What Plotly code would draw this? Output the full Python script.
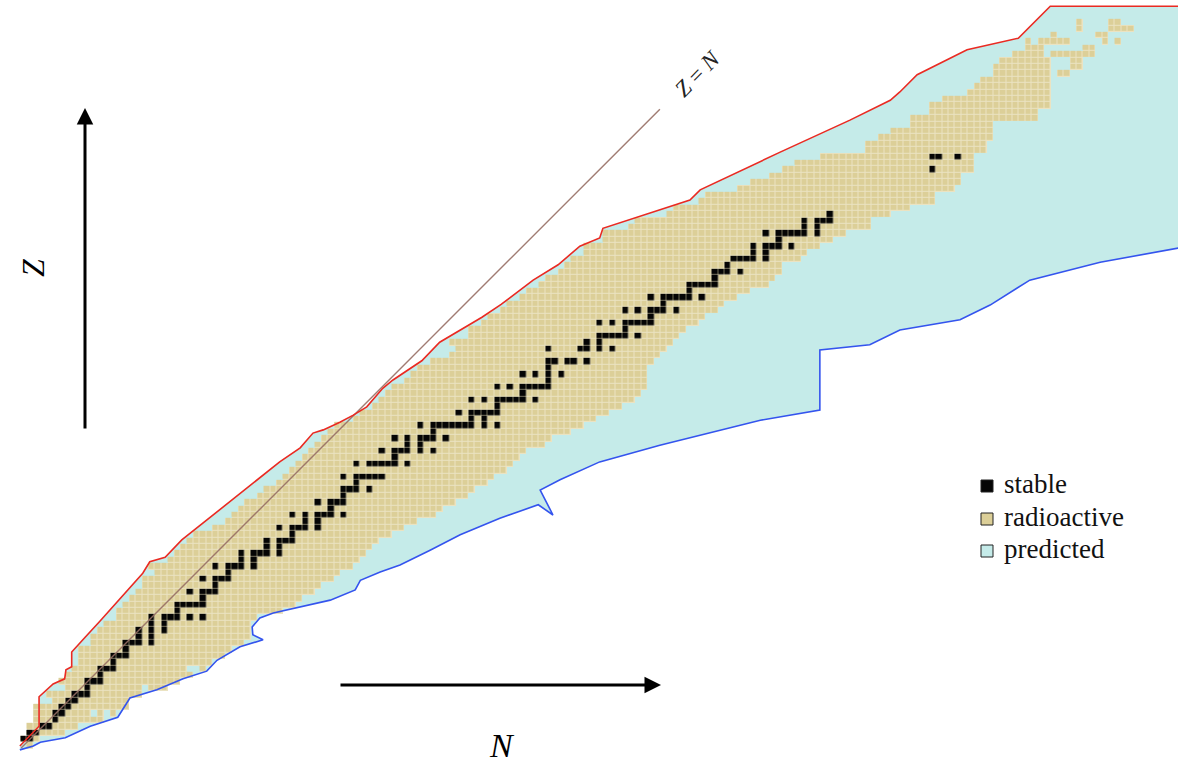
import numpy as np
import plotly.graph_objects as go

# ---------------------------------------------------------------------------
# Known nuclides: lowest / highest neutron number observed for each element
# (Z = 0 is the free neutron)
# ---------------------------------------------------------------------------
Z_KNOWN = list(range(0, 100))
N_FIRST = [
    1, 0, 1, 1, 2, 2, 2, 5, 4, 7,            # Z 0-9
    6, 7, 8, 9, 9, 9, 11, 11, 12, 13,        # Z 10-19
    15, 15, 16, 17, 18, 19, 19, 21, 20, 23,  # Z 20-29
    24, 25, 26, 27, 30, 32, 33, 34, 35, 37,  # Z 30-39
    38, 40, 41, 42, 43, 44, 45, 46, 47, 48,  # Z 40-49
    49, 52, 53, 55, 56, 57, 58, 60, 61, 62,  # Z 50-59
    64, 67, 68, 67, 70, 70, 72, 73, 75, 76,  # Z 60-69
    78, 79, 81, 82, 84, 85, 86, 88, 88, 91,  # Z 70-79
    91, 95, 96, 101, 102, 106, 107, 112, 114, 117,  # Z 80-89
    119, 121, 125, 132, 132, 134, 136, 139, 139, 142,  # Z 90-99
]
N_LAST = [
    1, 2, 6, 8, 12, 14, 16, 16, 18, 22,
    24, 26, 28, 29, 31, 32, 34, 35, 35, 35,
    36, 40, 42, 43, 45, 46, 48, 49, 51, 52,
    53, 54, 55, 57, 59, 61, 64, 65, 67, 69,
    70, 72, 73, 75, 76, 77, 78, 81, 82, 85,
    87, 89, 91, 93, 95, 96, 97, 97, 97, 97,
    98, 99, 100, 101, 102, 103, 105, 106, 108, 109,
    111, 113, 116, 117, 118, 118, 121, 122, 124, 126,
    128, 132, 132, 135, 138, 142, 142, 145, 146, 146,
    148, 148, 148, 150, 150, 151, 151, 151, 158, 158,
]

# unobserved nuclides lying inside the observed ranges
HOLE_Z = [5, 5, 9, 12, 12]
HOLE_N = [11, 13, 19, 26, 27]

# Heaviest elements: observed neutron-number runs (first, last)
Z_HEAVY = list(range(100, 114))
N_RUNS_HEAVY = [
    [(142, 160)],
    [(144, 160)],
    [(148, 160)],
    [(149, 160)],
    [(150, 160)],
    [(152, 160), (162, 163)],
    [(152, 160), (164, 165)],
    [(153, 160), (164, 165)],
    [(155, 159), (161, 167)],
    [(157, 159), (166, 167)],
    [(157, 157), (159, 163), (169, 169), (171, 171)],
    [(161, 161), (168, 169)],
    [(165, 165), (170, 173)],
    [(165, 165), (170, 171)],
]

# Stable nuclides: neutron numbers for each element
Z_STABLE = list(range(1, 93))
N_STABLE = [
    [0, 1], [1, 2], [3, 4], [5], [5, 6], [6, 7], [7, 8], [8, 9, 10], [10],
    [10, 11, 12], [12], [12, 13, 14], [14], [14, 15, 16], [16],
    [16, 17, 18, 20], [18, 20], [18, 20, 22], [20, 22],
    [20, 22, 23, 24, 26, 28], [24], [24, 25, 26, 27, 28], [28],
    [26, 28, 29, 30], [30], [28, 30, 31, 32], [32], [30, 32, 33, 34, 36],
    [34, 36], [34, 36, 37, 38, 40], [38, 40], [38, 40, 41, 42], [42],
    [40, 42, 43, 44, 46], [44, 46], [42, 44, 46, 47, 48, 50], [48],
    [46, 48, 49, 50], [50], [50, 51, 52, 54], [52],
    [50, 52, 53, 54, 55, 56], [], [52, 54, 55, 56, 57, 58, 60], [58],
    [56, 58, 59, 60, 62, 64], [60, 62], [58, 60, 62, 63, 64, 66], [64],
    [62, 64, 65, 66, 67, 68, 69, 70, 72, 74], [70, 72],
    [68, 70, 71, 72, 73, 74], [74], [70, 72, 74, 75, 76, 77, 78, 80],
    [78], [74, 76, 78, 79, 80, 81, 82], [82], [78, 80, 82, 84], [82],
    [82, 83, 85, 86, 88], [], [82, 87, 88, 90, 92], [88, 90],
    [90, 91, 92, 93, 94, 96], [94], [90, 92, 94, 95, 96, 97, 98], [98],
    [94, 96, 98, 99, 100, 102], [100], [98, 100, 101, 102, 103, 104, 106],
    [104], [104, 105, 106, 107, 108], [108], [108, 109, 110, 112], [110],
    [111, 112, 113, 114, 116], [114, 116], [114, 116, 117, 118, 120], [118],
    [116, 118, 119, 120, 121, 122, 124], [122, 124], [122, 124, 125, 126],
    [126], [], [], [], [], [], [], [142], [], [142, 143, 146],
]

# Drip lines bounding the predicted region, as (N, Z) vertices
PROTON_DRIP_N = [-0.6, 2.4, 2.4, 4.6, 6.4, 6.6, 7.5, 7.5, 9.6, 11.9, 18.6,
                 19.7, 22.1, 24.7, 40.0, 43.2, 45.2, 46.8, 49.4, 51.5, 53.6,
                 56.1, 57.7, 62.2, 65.0, 68.5, 71.6, 74.6, 79.6, 83.5, 86.9,
                 90.0, 90.5, 104.1, 105.7, 118.2, 129.1, 135.4, 136.9, 139.6,
                 147.4, 155.4, 160.4, 195.0]
PROTON_DRIP_Z = [-0.1, 3.0, 7.6, 9.6, 10.4, 11.8, 12.3, 14.6, 16.9, 19.4,
                 26.9, 28.7, 29.4, 32.1, 44.3, 46.5, 48.8, 49.3, 50.5, 51.6,
                 52.9, 55.8, 57.1, 60.1, 63.0, 65.1, 66.9, 68.9, 72.7, 75.1,
                 78.0, 79.3, 80.8, 85.2, 86.8, 92.7, 97.7, 100.8, 102.1,
                 104.8, 108.7, 110.5, 115.5, 115.5]
NEUTRON_DRIP_N = [-0.6, 1.5, 2.6, 6.5, 10.4, 14.7, 16.6, 20.8, 24.9, 28.6,
                  30.2, 33.8, 37.4, 35.8, 35.7, 36.9, 39.0, 43.2, 47.9, 51.8,
                  52.6, 55.7, 58.8, 63.5, 68.2, 74.4, 80.4, 82.7, 80.7, 83.8,
                  90.0, 99.4, 115.1, 124.4, 124.4, 132.2, 136.9, 146.3, 151.0,
                  157.2, 168.2, 180.4, 195.0]
NEUTRON_DRIP_Z = [-0.7, -0.1, 0.5, 1.2, 3.0, 4.4, 7.4, 8.7, 10.4, 11.6,
                  13.3, 15.4, 16.5, 17.3, 18.5, 19.9, 20.7, 21.6, 22.7, 24.3,
                  25.8, 27.1, 28.2, 30.5, 32.9, 35.5, 37.6, 36.0, 39.9, 41.5,
                  44.3, 46.9, 50.8, 52.4, 61.8, 62.6, 64.9, 66.5, 68.8,
                  72.7, 75.5, 77.7, 80.2]

ZN_EXTENT = [-0.4, 99.4]

COL_KNOWN = "#dccf98"
COL_GRID = "#ebe3c2"
COL_STABLE = "#050505"
COL_PRED = "#c5ebe9"
COL_PDRIP = "#ea2a22"
COL_NDRIP = "#3454ee"

# ---------------------------------------------------------------------------
# Grids of nuclides (NaN = nothing drawn)
# ---------------------------------------------------------------------------
n_max = 180
z_max = 116
known = np.full((z_max + 1, n_max + 1), np.nan)
for z, n0, n1 in zip(Z_KNOWN, N_FIRST, N_LAST):
    known[z, n0:n1 + 1] = 0
for z, runs in zip(Z_HEAVY, N_RUNS_HEAVY):
    for n0, n1 in runs:
        known[z, n0:n1 + 1] = 0
for z, n in zip(HOLE_Z, HOLE_N):
    known[z, n] = np.nan

stable = np.full_like(known, np.nan)
for z, ns in zip(Z_STABLE, N_STABLE):
    for n in ns:
        stable[z, n] = 0
        known[z, n] = 0

n_axis = np.arange(n_max + 1)
z_axis = np.arange(z_max + 1)

fig = go.Figure()

# predicted region between the two drip lines (kept beneath the cells)
poly_n = PROTON_DRIP_N + NEUTRON_DRIP_N[::-1]
poly_z = PROTON_DRIP_Z + NEUTRON_DRIP_Z[::-1]
path = "M " + " L ".join(f"{n},{z}" for n, z in zip(poly_n, poly_z)) + " Z"
fig.add_shape(type="path", path=path, xref="x", yref="y", layer="below",
              fillcolor=COL_PRED, line=dict(width=0))

# light cell outlines, radioactive cells, stable cells
fig.add_trace(go.Heatmap(x=n_axis, y=z_axis, z=known, zmin=0, zmax=1,
                         colorscale=[[0, COL_GRID], [1, COL_GRID]],
                         showscale=False, hoverinfo="skip"))
fig.add_trace(go.Heatmap(x=n_axis, y=z_axis, z=known, zmin=0, zmax=1,
                         colorscale=[[0, COL_KNOWN], [1, COL_KNOWN]],
                         xgap=1, ygap=1, showscale=False, hoverinfo="skip"))
fig.add_trace(go.Heatmap(x=n_axis, y=z_axis, z=stable, zmin=0, zmax=1,
                         colorscale=[[0, COL_STABLE], [1, COL_STABLE]],
                         xgap=0.5, ygap=0.5, showscale=False,
                         hoverinfo="skip"))

# Z = N diagonal
fig.add_trace(go.Scatter(x=ZN_EXTENT, y=ZN_EXTENT, mode="lines",
                         line=dict(color="rgba(150,110,100,0.9)", width=1.4),
                         hoverinfo="skip", showlegend=False))

# drip lines
fig.add_trace(go.Scatter(x=PROTON_DRIP_N, y=PROTON_DRIP_Z, mode="lines",
                         line=dict(color=COL_PDRIP, width=1.6),
                         hoverinfo="skip", showlegend=False))
fig.add_trace(go.Scatter(x=NEUTRON_DRIP_N, y=NEUTRON_DRIP_Z, mode="lines",
                         line=dict(color=COL_NDRIP, width=1.6),
                         hoverinfo="skip", showlegend=False))

W, H = 1178, 763


def px(x):
    return x / W


def py(y):
    return 1 - y / H


serif = "Liberation Serif, DejaVu Serif, serif"

# axis arrows and their letters
fig.add_annotation(xref="paper", yref="paper", x=px(85), y=py(108),
                   ax=0, ay=322, showarrow=True, arrowhead=2, arrowsize=1.1,
                   arrowwidth=3, arrowcolor="black", text="")
fig.add_annotation(xref="paper", yref="paper", x=px(661), y=py(685),
                   ax=-322, ay=0, showarrow=True, arrowhead=2, arrowsize=1.1,
                   arrowwidth=3, arrowcolor="black", text="")
fig.add_annotation(xref="paper", yref="paper", x=px(33), y=py(268),
                   xanchor="center", yanchor="middle",
                   text="<i>Z</i>", showarrow=False, textangle=-90,
                   font=dict(family=serif, size=32, color="black"))
fig.add_annotation(xref="paper", yref="paper", x=px(502), y=py(745),
                   xanchor="center", yanchor="middle",
                   text="<i>N</i>", showarrow=False,
                   font=dict(family=serif, size=34, color="black"))
fig.add_annotation(xref="paper", yref="paper", x=px(698), y=py(74),
                   xanchor="center", yanchor="middle",
                   text="<i>Z</i> = <i>N</i>", showarrow=False, textangle=-46,
                   font=dict(family=serif, size=23, color="#222"))

# legend
legend_items = [("stable", COL_STABLE, 486), ("radioactive", COL_KNOWN, 519),
                ("predicted", COL_PRED, 551)]
for label, col, yc in legend_items:
    fig.add_shape(type="rect", xref="paper", yref="paper",
                  x0=px(981), x1=px(993), y0=py(yc + 6), y1=py(yc - 6),
                  fillcolor=col, line=dict(color="#222", width=1))
    fig.add_annotation(xref="paper", yref="paper", x=px(1002), y=py(yc - 2),
                       xanchor="left", yanchor="middle", text=label,
                       showarrow=False,
                       font=dict(family=serif, size=27, color="#111"))

fig.update_layout(
    width=W, height=H, margin=dict(l=0, r=0, t=0, b=0),
    paper_bgcolor="white", plot_bgcolor="white", showlegend=False,
    xaxis=dict(range=[-3.703, 180.36], visible=False, fixedrange=True),
    yaxis=dict(range=[-2.75, 116.47], visible=False, fixedrange=True),
)

fig.write_html("out.html")
